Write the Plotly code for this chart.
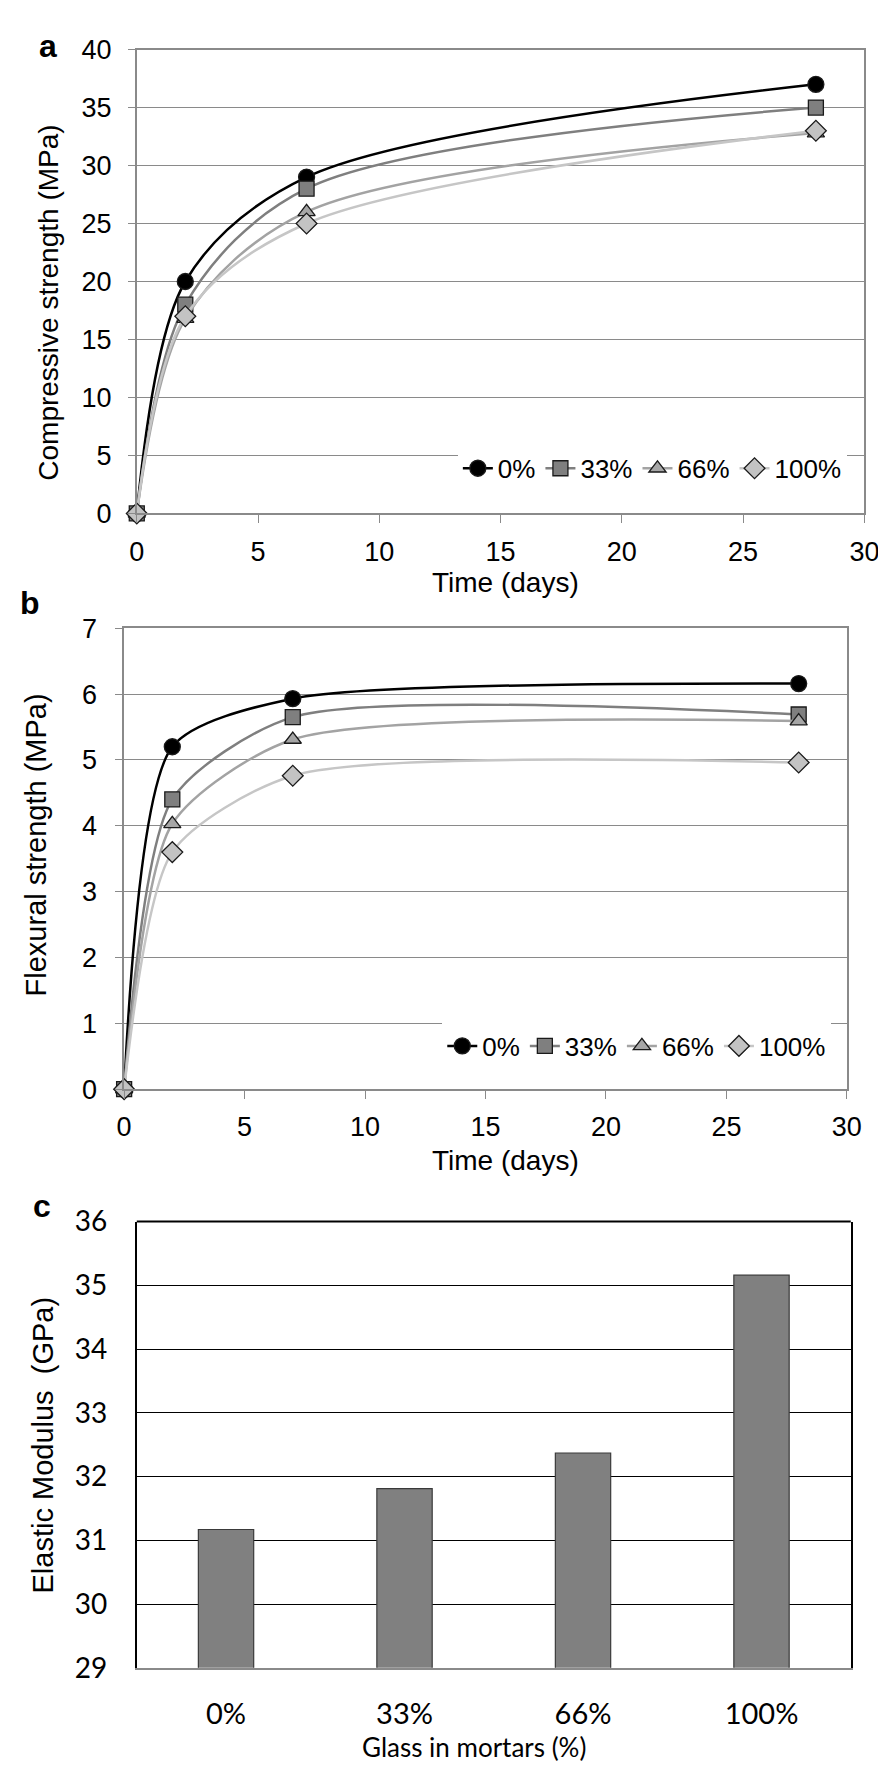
import plotly.graph_objects as go

W, H = 886, 1770

# ---------------- data ----------------
days = [0, 2, 7, 28]
series_names = ["0%", "33%", "66%", "100%"]

comp_0 = [0, 20, 29, 37]
comp_33 = [0, 18, 28, 35]
comp_66 = [0, 16.8, 26, 32.8]
comp_100 = [0, 17, 25, 33]

flex_0 = [0, 5.2, 5.93, 6.16]
flex_33 = [0, 4.4, 5.65, 5.69]
flex_66 = [0, 4.03, 5.31, 5.59]
flex_100 = [0, 3.6, 4.76, 4.96]

glass = ["0%", "33%", "66%", "100%"]
modulus = [31.17, 31.81, 32.37, 35.16]

# ---------------- styles ----------------
line_colors = ["#000000", "#7f7f7f", "#a3a3a3", "#c6c6c6"]
fill_colors = ["#000000", "#7f7f7f", "#a6a6a6", "#c3c3c3"]
symbols = ["circle", "square", "triangle-up", "diamond"]
sizes = [16, 15, 15, 16]
GRID = "#8a8a8a"
ARIAL = "Liberation Sans, Arial, sans-serif"
CAL = "Lato, Carlito, Calibri, sans-serif"


def xd(a, b):
    return [a / W, b / W]


def yd(top, bottom):
    return [1 - bottom / H, 1 - top / H]


def px(x):
    return x / W


def py(y):
    return 1 - y / H


fig = go.Figure()

comp = [comp_0, comp_33, comp_66, comp_100]
flex = [flex_0, flex_33, flex_66, flex_100]

for i, name in enumerate(series_names):
    fig.add_trace(go.Scatter(
        x=days, y=comp[i], name=name, mode="lines+markers",
        line=dict(color=line_colors[i], width=2.5, shape="spline", smoothing=0.9),
        marker=dict(symbol=symbols[i], size=sizes[i], color=fill_colors[i],
                    line=dict(color="#1a1a1a", width=1.3)),
        xaxis="x", yaxis="y", legend="legend", cliponaxis=False,
    ))

for i, name in enumerate(series_names):
    fig.add_trace(go.Scatter(
        x=days, y=flex[i], name=name, mode="lines+markers",
        line=dict(color=line_colors[i], width=2.5, shape="spline", smoothing=0.7),
        marker=dict(symbol=symbols[i], size=sizes[i], color=fill_colors[i],
                    line=dict(color="#1a1a1a", width=1.3)),
        xaxis="x2", yaxis="y2", legend="legend2", cliponaxis=False,
    ))

fig.add_trace(go.Bar(
    x=glass, y=modulus, marker=dict(color="#808080", line=dict(color="#3a3a3a", width=1.2)),
    xaxis="x3", yaxis="y3", showlegend=False, width=0.31,
))

tickfont = dict(family=ARIAL, size=27, color="#000000")

common_x = dict(range=[0, 30], dtick=5, tick0=0, ticks="outside", ticklen=8, tickcolor=GRID,
                showline=True, linecolor=GRID, linewidth=1.5, mirror=True, showgrid=False,
                zeroline=False, tickfont=tickfont, ticklabelstandoff=5)
common_y = dict(ticks="outside", ticklen=7, tickcolor=GRID, showline=True, linecolor=GRID,
                linewidth=1.5, mirror=True, showgrid=True, gridcolor=GRID, gridwidth=1.2,
                zeroline=False, tickfont=tickfont)

fig.update_layout(
    width=W, height=H, margin=dict(l=0, r=0, t=0, b=0),
    paper_bgcolor="white", plot_bgcolor="white",
    font=dict(family=ARIAL, color="#000000"),
    xaxis=dict(domain=xd(124, 871), anchor="y", **common_x),
    yaxis=dict(domain=yd(24, 497), anchor="x", range=[0, 40], dtick=5, ticklabelstandoff=11, **common_y),
    xaxis2=dict(domain=xd(111, 853), anchor="y2", **common_x),
    yaxis2=dict(domain=yd(614, 1084), anchor="x2", range=[0, 7], dtick=1, ticklabelstandoff=13, **common_y),
    xaxis3=dict(domain=xd(124, 857), anchor="y3", showline=True, linecolor="#8a8a8a", linewidth=2,
                ticks="", showgrid=False, zeroline=False, ticklabelstandoff=19,
                tickfont=dict(family=CAL, size=29, color="#000000")),
    yaxis3=dict(domain=yd(1219, 1674), anchor="x3", range=[29, 36], dtick=1, showline=True,
                linecolor="#000000", linewidth=2, mirror=True, ticks="", showgrid=True,
                gridcolor="#000000", gridwidth=1.2, zeroline=False, ticklabelstandoff=22,
                tickfont=dict(family=CAL, size=28, color="#000000")),
    bargap=0.69,
    legend=dict(orientation="h", x=px(853), xanchor="right", y=py(451), yanchor="middle",
                bgcolor="white", font=dict(family=ARIAL, size=26, color="#000000"),
                itemwidth=30, tracegroupgap=0),
    legend2=dict(orientation="h", x=px(837), xanchor="right", y=py(1040), yanchor="middle",
                 bgcolor="white", font=dict(family=ARIAL, size=26, color="#000000"),
                 itemwidth=30, tracegroupgap=0),
    showlegend=True,
)

# top border of panel c
fig.add_shape(type="line", xref="x3 domain", yref="y3 domain", x0=0, x1=1, y0=1, y1=1,
              line=dict(color="#000000", width=2))

annots = [
    dict(text="<b>a</b>", x=px(33), y=py(20), font=dict(family=ARIAL, size=32, color="#000000")),
    dict(text="<b>b</b>", x=px(14), y=py(588), font=dict(family=ARIAL, size=32, color="#000000")),
    dict(text="<b>c</b>", x=px(27), y=py(1203), font=dict(family=ARIAL, size=32, color="#000000")),
    dict(text="Time (days)", x=px(503), y=py(567), font=dict(family=ARIAL, size=28, color="#000000")),
    dict(text="Time (days)", x=px(503), y=py(1157), font=dict(family=ARIAL, size=28, color="#000000")),
    dict(text="Glass in mortars (%)", x=px(470), y=py(1755), font=dict(family=CAL, size=26, color="#000000")),
    dict(text="Compressive strength (MPa)", x=px(33), y=py(282), textangle=-90,
         font=dict(family=ARIAL, size=28, color="#000000")),
    dict(text="Flexural strength (MPa)", x=px(21), y=py(835), textangle=-90,
         font=dict(family=ARIAL, size=29, color="#000000")),
    dict(text="Elastic Modulus \u00a0(GPa)", x=px(28), y=py(1447), textangle=-90,
         font=dict(family=ARIAL, size=29, color="#000000")),
]
for a in annots:
    fig.add_annotation(xref="paper", yref="paper", showarrow=False, xanchor="center",
                       yanchor="middle", **a)

fig.write_html("out.html")
